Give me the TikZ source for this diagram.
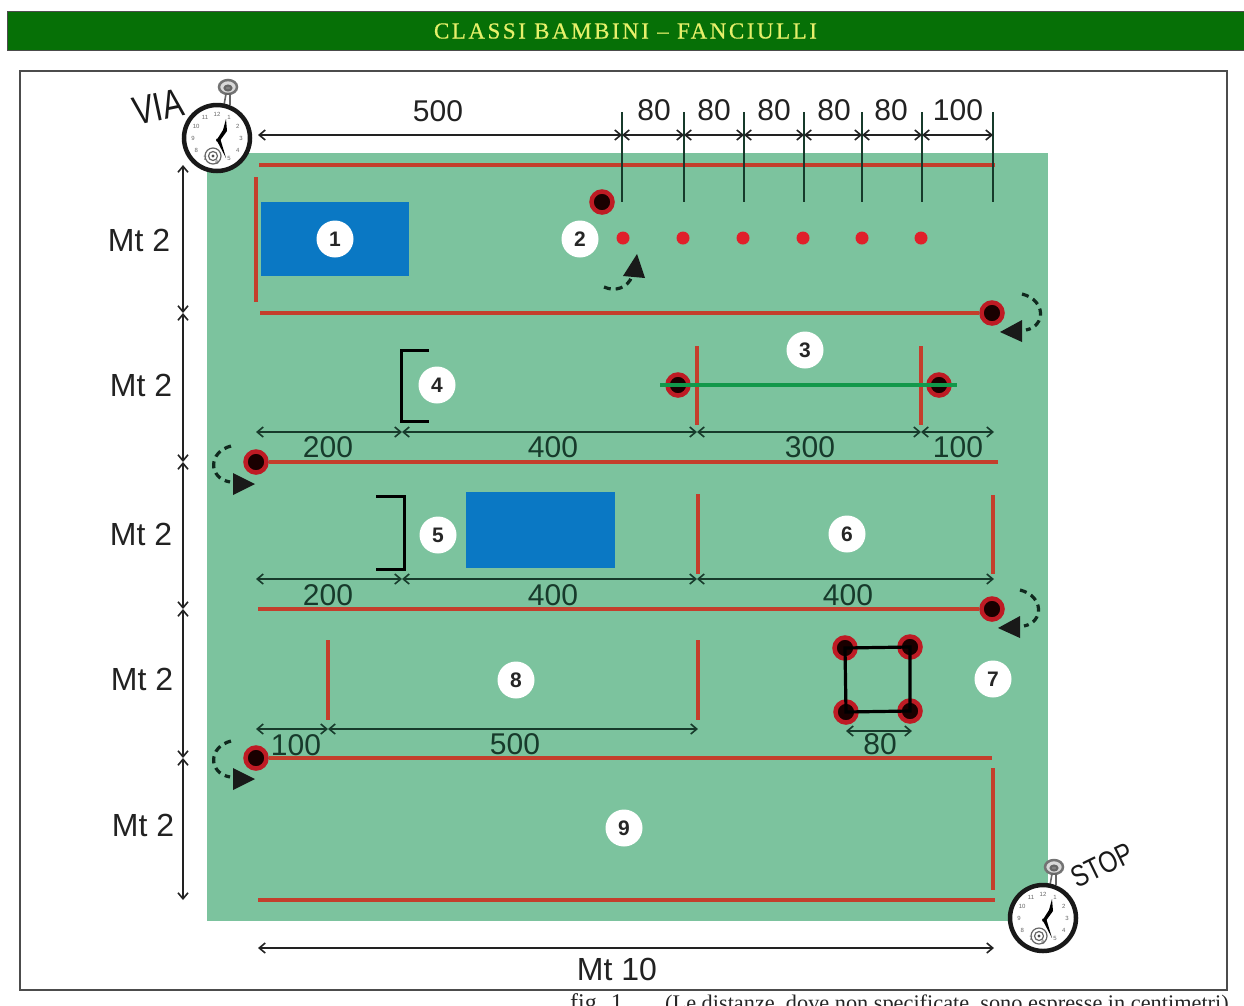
\documentclass[tikz,border=0pt]{standalone}
\usepackage{fontspec}
\setmainfont{Liberation Sans}
\newfontfamily\serifti{Liberation Serif}
\newfontfamily\seriftitle[LetterSpace=11,FakeBold=0.4]{Liberation Serif}
\usetikzlibrary{arrows.meta}
\definecolor{fieldc}{HTML}{7CC39E}
\definecolor{redl}{HTML}{C43E2C}
\definecolor{bluer}{HTML}{0A78C4}
\definecolor{barc}{HTML}{067006}
\definecolor{titlec}{HTML}{E6F06A}
\definecolor{dimc}{HTML}{173A2B}
\definecolor{dimo}{HTML}{222222}
\definecolor{dotc}{HTML}{E0202A}
\definecolor{gl}{HTML}{12984A}
\tikzset{
 x=1pt,y=-1pt,
 redline/.style={draw=redl,line width=3.8pt},
 dimin/.style={draw=dimc,line width=1.6pt,{Straight Barb[length=6pt,width=10pt]}-{Straight Barb[length=6pt,width=10pt]}},
 dimout/.style={dimin,draw=dimo},
 ticks/.style={draw=dimc,line width=1.8pt},
 lab/.style={font=\fontsize{30}{31}\selectfont,text=dimc,inner sep=0pt},
 labo/.style={lab,text=dimo},
 labm/.style={labo,font=\fontsize{32}{33}\selectfont},
 badge/.style={circle,fill=white,minimum size=37pt,inner sep=0pt,text=black!85,font=\fontsize{21}{22}\selectfont\bfseries},
 cone/.style={circle,fill=black!90!red,draw=dotc!85!black,line width=4.5pt,minimum size=21pt,inner sep=0pt},
 dot/.style={circle,fill=dotc,minimum size=13pt,inner sep=0pt},
 turn/.style={draw=dimc!70!black,line width=3.2pt,dash pattern=on 7pt off 5pt},
 tipf/.style={fill=black!90},
 brk/.style={draw=black,line width=3pt},
 watchnum/.style={font=\fontsize{6}{7}\selectfont,text=black!60,inner sep=0pt},
 pics/stopw/.style={code={
  \draw[black!55,line width=2.5pt,fill=black!15] (11,-51) ellipse (9 and 7);
  \draw[black!60,line width=2pt,fill=black!50] (11,-50) ellipse (3.5 and 2.5);
  \draw[black!60,line width=1.6pt,fill=white] (7,-33) -- (9,-44) -- (13,-44) -- (13,-33);
  \draw[black!90,line width=4.5pt,fill=white] (0,0) circle (33);
  \foreach \a/\t in {90/12,60/1,30/2,0/3,-30/4,-60/5,-90/6,-120/7,-150/8,180/9,150/10,120/11}
   \node[watchnum] at ({24*cos(\a)},{-24*sin(\a)}) {\t};
  \draw[black!60,line width=1.2pt] (-4,18) circle (8);
  \draw[black!60,line width=1.2pt] (-4,18) circle (4.5);
  \fill[black!70] (-4,18) circle (1.6);
  \fill[black] (-1,3) -- (6,-8) -- (9,-19) -- (10,-7) -- (2,4) -- cycle;
  \fill[black] (-1,1) -- (3,0) -- (9,20) -- cycle;
 }}
}
\begin{document}
\begin{tikzpicture}
\useasboundingbox (0,0) rectangle (1244,1005);
\begin{scope}
\clip (0,0) rectangle (1244,1005);
% title bar
\node[draw=black!70,fill=barc,line width=1pt,minimum width=1237pt,minimum height=39pt,inner sep=0pt,anchor=north west,text=titlec] (bar) at (7,11) {};
\node[text=titlec,inner sep=0pt,font=\seriftitle\fontsize{23}{24}\selectfont] (bart) at (625.5,31) {CLASSI BAMBINI – FANCIULLI};
% frame and field
\node[draw=black!70,line width=1.5pt,minimum width=1207pt,minimum height=919pt,inner sep=0pt,anchor=north west] (frame) at (19,70) {};
\node[fill=fieldc,minimum width=841pt,minimum height=768pt,inner sep=0pt,anchor=north west] (field) at (207,153) {};
% blue zones
\node[fill=bluer,minimum width=148pt,minimum height=74pt,inner sep=0pt,anchor=north west] (z1) at (261,202) {};
\node[fill=bluer,minimum width=149pt,minimum height=76pt,inner sep=0pt,anchor=north west] (z5) at (466,492) {};
% red lines
\coordinate (a1) at (259,165); \coordinate (a2) at (995,165);
\coordinate (b1) at (256,177); \coordinate (b2) at (256,302);
\coordinate (c1) at (260,313);
\coordinate (d1) at (697,346); \coordinate (d2) at (697,425);
\coordinate (e1) at (921,346); \coordinate (e2) at (921,425);
\coordinate (f2) at (998,462);
\coordinate (g1) at (698,494); \coordinate (g2) at (698,574);
\coordinate (h1) at (993,495); \coordinate (h2) at (993,574);
\coordinate (i1) at (258,609);
\coordinate (j1) at (328,640); \coordinate (j2) at (328,720);
\coordinate (k1) at (698,640); \coordinate (k2) at (698,720);
\coordinate (m1) at (993,768); \coordinate (m2) at (993,890);
\coordinate (n1) at (258,900); \coordinate (n2) at (995,900);
\coordinate (o2) at (992,758);
\coordinate (gl1) at (660,385); \coordinate (gl2) at (957,385);
\draw[redline] (a1) -- (a2);
\draw[redline] (b1) -- (b2);
\draw[redline] (d1) -- (d2);
\draw[redline] (e1) -- (e2);
\draw[redline] (g1) -- (g2);
\draw[redline] (h1) -- (h2);
\draw[redline] (j1) -- (j2);
\draw[redline] (k1) -- (k2);
\draw[redline] (m1) -- (m2);
\draw[redline] (n1) -- (n2);
% cones
\node[cone] (c2) at (602,202) {};
\node[cone] (c3) at (992,313) {};
\node[cone] (c4) at (256,462) {};
\node[cone] (c5) at (992,609) {};
\node[cone] (c6) at (256,758) {};
\draw[redline] (c1) -- (c3);
\draw[redline] (c4) -- (f2);
\draw[redline] (i1) -- (c5);
\draw[redline] (c6) -- (o2);
\node[cone] (c7) at (678,385) {};
\node[cone] (c8) at (939,385) {};
\draw[draw=gl,line width=3.4pt] (gl1) -- (gl2);
% square
\node[cone] (s1) at (845,648) {};
\node[cone] (s2) at (910,647) {};
\node[cone] (s3) at (846,712) {};
\node[cone] (s4) at (910,711) {};
\draw[black,line width=3.2pt] (s1.center) -- (s2.center) -- (s4.center) -- (s3.center) -- cycle;
% dots
\foreach \n/\x in {1/623,2/683,3/743,4/803,5/862,6/921}
  \node[dot] (dot\n) at (\x,238) {};
% brackets
\coordinate (p1) at (429,350); \coordinate (p2) at (401,350); \coordinate (p3) at (401,421); \coordinate (p4) at (429,421);
\coordinate (q1) at (376,496); \coordinate (q2) at (404,496); \coordinate (q3) at (404,569); \coordinate (q4) at (376,569);
\draw[brk] (p1) -- (p2) -- (p3) -- (p4);
\draw[brk] (q1) -- (q2) -- (q3) -- (q4);
% top dimension
\foreach \n/\x in {0/622,1/684,2/744,3/804,4/862,5/922,6/993} {
  \coordinate (tt\n) at (\x,112); \coordinate (tb\n) at (\x,202); \coordinate (td\n) at (\x,135);
  \draw[ticks] (tt\n) -- (tb\n);
}
\coordinate (tdl) at (258,135);
\draw[dimout] (tdl) -- (td0);
\foreach \a/\b in {0/1,1/2,2/3,3/4,4/5,5/6} \draw[dimout] (td\a) -- (td\b);
\node[labo] (l500) at (438,111) {500};
\node[labo] (l80a) at (654,110) {80};
\node[labo] (l80b) at (714,110) {80};
\node[labo] (l80c) at (774,110) {80};
\node[labo] (l80d) at (834,110) {80};
\node[labo] (l80e) at (891,110) {80};
\node[labo] (l100) at (958,110) {100};
% left dimension
\foreach \n/\y in {0/165,1/313,2/462,3/609,4/758,5/900} \coordinate (ld\n) at (183,\y);
\foreach \a/\b in {0/1,1/2,2/3,3/4,4/5} \draw[dimout] (ld\a) -- (ld\b);
\node[labm] (m1l) at (139,240) {Mt 2};
\node[labm] (m2l) at (141,385) {Mt 2};
\node[labm] (m3l) at (141,534) {Mt 2};
\node[labm] (m4l) at (142,679) {Mt 2};
\node[labm] (m5l) at (143,825) {Mt 2};
% row dimensions
\foreach \n/\x in {0/256,1/402,2/697,3/921,4/994} \coordinate (ra\n) at (\x,432);
\foreach \a/\b in {0/1,1/2,2/3,3/4} \draw[dimin] (ra\a) -- (ra\b);
\node[lab] (r1) at (328,447) {200};
\node[lab] (r2) at (553,447) {400};
\node[lab] (r3) at (810,447) {300};
\node[lab] (r4) at (958,447) {100};
\foreach \n/\x in {0/256,1/402,2/697,3/994} \coordinate (rb\n) at (\x,579);
\foreach \a/\b in {0/1,1/2,2/3} \draw[dimin] (rb\a) -- (rb\b);
\node[lab] (r5) at (328,595) {200};
\node[lab] (r6) at (553,595) {400};
\node[lab] (r7) at (848,595) {400};
\foreach \n/\x in {0/256,1/328,2/698} \coordinate (rc\n) at (\x,729);
\foreach \a/\b in {0/1,1/2} \draw[dimin] (rc\a) -- (rc\b);
\node[lab] (r8) at (296,745) {100};
\node[lab] (r9) at (515,744) {500};
\coordinate (rd0) at (846,731); \coordinate (rd1) at (912,731);
\draw[dimin] (rd0) -- (rd1);
\node[lab] (r10) at (880,744) {80};
% bottom dimension
\coordinate (be0) at (258,948); \coordinate (be1) at (994,948);
\draw[dimout] (be0) -- (be1);
\node[labm] (m10) at (617,969) {Mt 10};
% turn arrows
\coordinate (u1) at (1022,294); \coordinate (u2) at (1026,330);
\draw[turn] (u1) .. controls (1046,300) and (1046,326) .. (u2);
\fill[tipf] (1000,332) -- (1022,320) -- (1022,342) -- cycle;
\coordinate (u3) at (1020,590); \coordinate (u4) at (1024,626);
\draw[turn] (u3) .. controls (1044,596) and (1044,622) .. (u4);
\fill[tipf] (998,628) -- (1020,616) -- (1020,638) -- cycle;
\coordinate (u5) at (231,446); \coordinate (u6) at (230,482);
\draw[turn] (u5) .. controls (208,452) and (208,478) .. (u6);
\fill[tipf] (255,484) -- (233,473) -- (233,495) -- cycle;
\coordinate (u7) at (231,741); \coordinate (u8) at (230,777);
\draw[turn] (u7) .. controls (208,747) and (208,773) .. (u8);
\fill[tipf] (255,779) -- (233,768) -- (233,790) -- cycle;
\coordinate (u9) at (604,287); \coordinate (u10) at (632,276);
\draw[turn] (u9) .. controls (615,292) and (628,288) .. (u10);
\fill[tipf] (637,254) -- (623,276) -- (645,278) -- cycle;
% badges
\node[badge] (n1b) at (335,239) {1};
\node[badge] (n2b) at (580,239) {2};
\node[badge] (n3b) at (805,350) {3};
\node[badge] (n4b) at (437,385) {4};
\node[badge] (n5b) at (438,535) {5};
\node[badge] (n6b) at (847,534) {6};
\node[badge] (n7b) at (993,679) {7};
\node[badge] (n8b) at (516,680) {8};
\node[badge] (n9b) at (624,828) {9};
% stopwatches
\pic at (217,138) {stopw};
\pic at (1043,918) {stopw};
\node[inner sep=0pt,rotate=12,text=black!90,font=\fontsize{40}{42}\selectfont,xscale=0.78] (via) at (158,107) {VIA};
\node[inner sep=0pt,rotate=26,text=black!90,font=\fontsize{30}{32}\selectfont,xscale=0.8] (stop) at (1102,865) {STOP};
% caption
\node[inner sep=0pt,anchor=base west,text=black!85,font=\serifti\fontsize{24}{26}\selectfont] (fig) at (570,1010) {fig. 1};
\node[inner sep=0pt,anchor=base west,text=black!85,font=\serifti\fontsize{22.3}{24}\selectfont] (note) at (665,1010) {(Le distanze, dove non specificate, sono espresse in centimetri)};
\end{scope}
\end{tikzpicture}
\end{document}
